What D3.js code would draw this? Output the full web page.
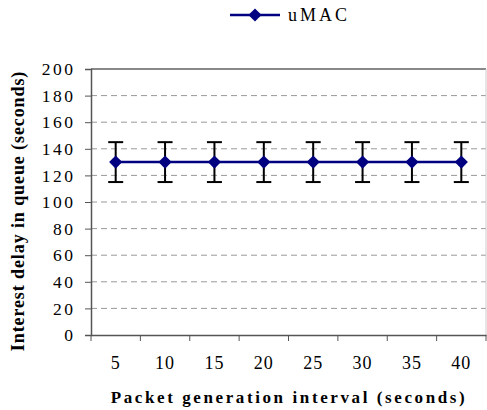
<!DOCTYPE html>
<html><head><meta charset="utf-8">
<script src="https://cdn.jsdelivr.net/npm/d3@7"></script>
<style>body{margin:0;background:#fff}svg{display:block}
svg text{font-family:"Liberation Serif","Times New Roman",serif !important;fill:#000}
</style>
</head><body>
<svg id="c" width="487" height="410"></svg>
<script>
const categories = ["5","10","15","20","25","30","35","40"];
const values = [130,130,130,130,130,130,130,130];
const errors = [15,15,15,15,15,15,15,15];
const yTicks = [0,20,40,60,80,100,120,140,160,180,200];
const seriesName = "uMAC";

const svg = d3.select("#c");
const m = {l:91, r:486, t:69, b:335};
const x = d3.scaleBand().domain(categories).range([m.l, m.r]);
const y = d3.scaleLinear().domain([0,200]).range([m.b, m.t]);

// gridlines
svg.append("g").selectAll("line").data(yTicks.filter(d=>d>0&&d<200)).join("line")
  .attr("x1", m.l).attr("x2", m.r).attr("y1", d=>y(d)).attr("y2", d=>y(d))
  .attr("stroke", "#999").attr("stroke-width", 1).attr("stroke-dasharray", "6,4");

// frame top/right
svg.append("line").attr("x1", m.l).attr("x2", m.r).attr("y1", m.t).attr("y2", m.t)
  .attr("stroke", "#888").attr("stroke-width", 2);
svg.append("line").attr("x1", m.r).attr("x2", m.r).attr("y1", m.t).attr("y2", m.b)
  .attr("stroke", "#ccc").attr("stroke-width", 1);

// y axis
const ya = svg.append("g").attr("transform", `translate(${m.l},0)`)
  .call(d3.axisLeft(y).tickValues(yTicks).tickSize(6).tickPadding(9.5));
ya.attr("font-size", 17);
ya.select(".domain").attr("stroke", "#555").attr("stroke-width", 1.5);
ya.selectAll(".tick line").attr("stroke", "#555");
ya.selectAll("text").style("font-size", "17.5px").style("letter-spacing", "2.5px");

// x axis
const xa = svg.append("g").attr("transform", `translate(0,${m.b})`)
  .call(d3.axisBottom(x).tickSize(0).tickPadding(21));
xa.attr("font-size", 18);
xa.select(".domain").attr("stroke", "#555").attr("stroke-width", 1.5);
xa.selectAll("text").style("font-size", "18px").style("letter-spacing", "1px");
const bounds = categories.map(c=>x(c)).concat([m.r]);
svg.append("g").selectAll("line").data(bounds).join("line")
  .attr("x1", d=>d).attr("x2", d=>d).attr("y1", m.b).attr("y2", m.b+6)
  .attr("stroke", "#555").attr("stroke-width", 1);

const cx = c => x(c) + x.bandwidth()/2;

// series line
svg.append("path").datum(categories.map((c,i)=>[cx(c), y(values[i])]))
  .attr("d", d3.line()).attr("fill","none").attr("stroke","#000080").attr("stroke-width",2.5);

// error bars
const eb = svg.append("g").attr("stroke","#000").attr("stroke-width",2);
categories.forEach((c,i)=>{
  const px = cx(c), hi = y(values[i]+errors[i]), lo = y(values[i]-errors[i]);
  eb.append("line").attr("x1",px).attr("x2",px).attr("y1",hi).attr("y2",lo);
  eb.append("line").attr("x1",px-7.5).attr("x2",px+7.5).attr("y1",hi).attr("y2",hi);
  eb.append("line").attr("x1",px-7.5).attr("x2",px+7.5).attr("y1",lo).attr("y2",lo);
});

// markers
const diamond = d3.symbol().type(d3.symbolDiamond2).size(110);
svg.append("g").selectAll("path").data(categories).join("path")
  .attr("d", diamond).attr("transform",(c,i)=>`translate(${cx(c)},${y(values[i])})`)
  .attr("fill","#000080");

// legend
const lg = svg.append("g");
lg.append("line").attr("x1",230).attr("x2",280).attr("y1",15).attr("y2",15)
  .attr("stroke","#000080").attr("stroke-width",2.5);
lg.append("path").attr("d", diamond).attr("transform","translate(255,15)").attr("fill","#000080");
lg.append("text").attr("x",288).attr("y",21).text(seriesName)
  .style("font-size","18px").style("letter-spacing","3px");

// axis titles
svg.append("text").attr("transform",`translate(24,${(m.t+m.b)/2+9}) rotate(-90)`)
  .attr("text-anchor","middle").style("font-weight","bold")
  .style("font-size","18px").style("letter-spacing","0.9px").text("Interest delay in queue (seconds)");
svg.append("text").attr("x",289).attr("y",403).attr("text-anchor","middle")
  .style("font-weight","bold").style("font-size","17px")
  .style("letter-spacing","2.6px").text("Packet generation interval (seconds)");
</script>
</body></html>
